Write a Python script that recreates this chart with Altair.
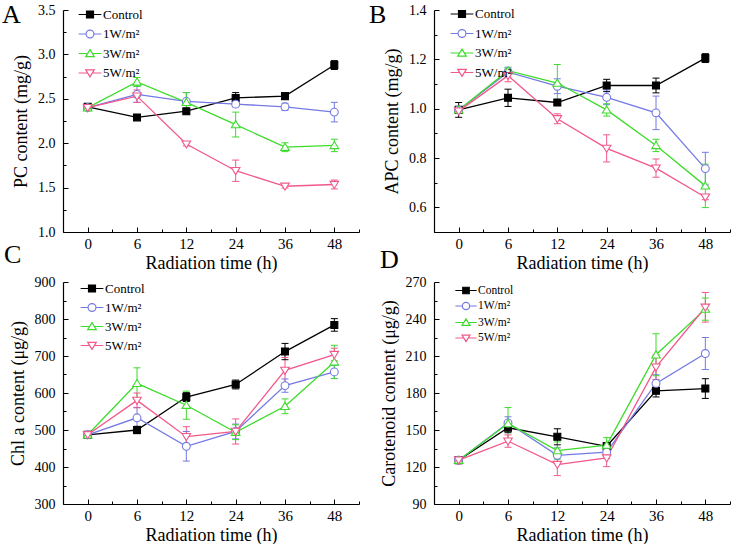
import altair as alt
import pandas as pd

# ---------------- data ----------------
times = ["0", "6", "12", "24", "36", "48"]
series = ["Control", "1W/m²", "3W/m²", "5W/m²"]
colors = ["#000000", "#7479e4", "#3ddc2c", "#f2588a"]
fills = ["#000000", "#ffffff", "#ffffff", "#ffffff"]
# marker outlines (square, circle, triangle-up, triangle-down) in unit coords
shapes = [
    "M-0.55,-0.55H0.55V0.55H-0.55Z",
    "M0.62,0A0.62,0.62,0,1,1,-0.62,0A0.62,0.62,0,1,1,0.62,0Z",
    "M0,-0.62L0.68,0.5H-0.68Z",
    "M0,0.62L0.68,-0.5H-0.68Z",
]
# legend symbols: short line through the marker
leg_shapes = [
    "M-1.8,0H-0.55M0.55,0H1.8M-0.55,-0.55H0.55V0.55H-0.55Z",
    "M-1.8,0H-0.62M0.62,0H1.8M0.62,0A0.62,0.62,0,1,1,-0.62,0A0.62,0.62,0,1,1,0.62,0Z",
    "M-1.8,0H-0.35M0.35,0H1.8M0,-0.62L0.68,0.5H-0.68Z",
    "M-1.8,0H-0.35M0.35,0H1.8M0,0.62L0.68,-0.5H-0.68Z",
]

# A: PC content (mg/g)
pc_ctrl = [2.41, 2.29, 2.36, 2.51, 2.53, 2.88]
pc_ctrl_err = [0.02, 0.02, 0.03, 0.06, 0.02, 0.05]
pc_w1 = [2.40, 2.55, 2.47, 2.44, 2.41, 2.35]
pc_w1_err = [0.02, 0.09, 0.10, 0.03, 0.04, 0.11]
pc_w3 = [2.40, 2.69, 2.46, 2.21, 1.955, 1.975]
pc_w3_err = [0.02, 0.05, 0.11, 0.14, 0.05, 0.07]
pc_w5 = [2.40, 2.53, 1.99, 1.69, 1.515, 1.535]
pc_w5_err = [0.02, 0.07, 0.02, 0.12, 0.02, 0.05]

# B: APC content (mg/g)
apc_ctrl = [0.995, 1.044, 1.025, 1.094, 1.094, 1.205]
apc_ctrl_err = [0.03, 0.035, 0.01, 0.025, 0.03, 0.018]
apc_w1 = [0.995, 1.148, 1.091, 1.046, 0.983, 0.757]
apc_w1_err = [0.01, 0.02, 0.03, 0.03, 0.068, 0.066]
apc_w3 = [0.995, 1.154, 1.104, 0.995, 0.851, 0.687]
apc_w3_err = [0.01, 0.01, 0.075, 0.025, 0.025, 0.088]
apc_w5 = [0.99, 1.134, 0.959, 0.839, 0.759, 0.641]
apc_w5_err = [0.01, 0.025, 0.02, 0.055, 0.037, 0.01]

# C: Chl a content (ug/g)
chl_ctrl = [487, 500, 589, 623, 712, 784]
chl_ctrl_err = [5, 10, 12, 12, 22, 17]
chl_w1 = [487, 533, 456, 496, 620, 657]
chl_w1_err = [5, 28, 40, 20, 18, 18]
chl_w3 = [487, 626, 567, 494, 564, 684]
chl_w3_err = [5, 42, 38, 20, 20, 45]
chl_w5 = [487, 580, 482, 496, 661, 704]
chl_w5_err = [5, 20, 27, 34, 35, 17]

# D: Carotenoid content (ug/g)
car_ctrl = [125.5, 151.8, 144.5, 136.8, 181.8, 183.6]
car_ctrl_err = [1.5, 4, 6.5, 3, 5, 8]
car_w1 = [125.5, 155.7, 129.5, 132.0, 187.8, 212.0]
car_w1_err = [1.5, 5, 6, 5, 7, 13]
car_w3 = [125.5, 155.2, 133.3, 137.8, 211.0, 248.0]
car_w3_err = [1.5, 13, 7, 6, 17, 9]
car_w5 = [125.5, 141.0, 122.0, 127.3, 201.0, 249.5]
car_w5_err = [1.5, 5, 9, 7, 10, 12]

FONT = "Liberation Serif"
W, H = 296, 222
MSIZE = 160


def panel(vals, errs, ytitle, ydom, ymajor, yminor, yfmt, letter, lpos, leg):
    rows = []
    for s, v, e in zip(series, vals, errs):
        for i in range(len(times)):
            rows.append({"idx": i, "series": s, "value": v[i],
                         "lo": v[i] - e[i], "hi": v[i] + e[i]})
    df = pd.DataFrame(rows)
    base = alt.Chart(df)
    xs = alt.Scale(domain=[-0.5, 5.5], nice=False, zero=False)
    ys = alt.Scale(domain=ydom, nice=False, zero=False)
    lab = "[" + ",".join("'" + t + "'" for t in times) + "][datum.value]"

    x_main = alt.X("idx:Q", scale=xs, axis=alt.Axis(
        orient="bottom", values=list(range(6)), labelExpr=lab, ticks=False,
        grid=False, title="Radiation time (h)", labelPadding=4, titlePadding=3,
        labelFontSize=15, titleFontSize=18, labelFlush=False,
        labelFont=FONT, titleFont=FONT, titleFontWeight="normal"))
    y_main = alt.Y("value:Q", scale=ys, axis=alt.Axis(
        orient="left", values=ymajor, format=yfmt, ticks=False, grid=False,
        title=ytitle, labelPadding=8, titlePadding=7, labelFontSize=14,
        titleFontSize=18, labelFlush=False,
        labelFont=FONT, titleFont=FONT, titleFontWeight="normal"))
    x_maj = alt.X("idx:Q", scale=xs, axis=alt.Axis(
        orient="top", offset=-H, values=list(range(6)), labels=False,
        domain=False, tickSize=5, grid=False, title=None))
    y_maj = alt.Y("value:Q", scale=ys, axis=alt.Axis(
        orient="right", offset=-W, values=ymajor, labels=False, domain=False,
        tickSize=5, grid=False, title=None))
    x_min = alt.X("idx:Q", scale=xs, axis=alt.Axis(
        orient="top", offset=-H, values=[i + 0.5 for i in range(-1, 6)],
        labels=False, domain=False, tickSize=3, grid=False, title=None))
    y_min = alt.Y("lo:Q", scale=ys, axis=alt.Axis(
        orient="right", offset=-W, values=yminor, labels=False, domain=False,
        tickSize=3, grid=False, title=None))
    x_none = alt.X("idx:Q", scale=xs, axis=None)

    L = alt.Legend(orient="none", legendX=leg["x"], legendY=leg["y"], title=None,
                   labelFont=FONT, labelFontSize=leg["fs"], labelColor="black",
                   symbolSize=leg["size"], symbolStrokeWidth=1.2,
                   symbolFillColor="white", symbolStrokeColor="black",
                   symbolOpacity=1, rowPadding=leg["rp"],
                   labelOffset=leg["lo"], padding=0)
    col = alt.Color("series:N", scale=alt.Scale(domain=series, range=colors),
                    legend=L)

    rules = base.mark_rule(strokeWidth=1).encode(
        x=x_min, y=y_min, y2="hi:Q", color=col)
    caps = base.transform_fold(["lo", "hi"], as_=["k", "v"]).mark_rule(
        strokeWidth=1, xOffset=-3.5, x2Offset=3.5).encode(
        x=x_none, x2="idx:Q",
        y=alt.Y("v:Q", scale=ys, axis=None), color=col)
    lines = base.mark_line(strokeWidth=1.3).encode(
        x=x_main, y=y_main, order="idx:Q", color=col)
    layers = [rules, caps, lines]
    for k, s in enumerate(series):
        layers.append(
            base.transform_filter(alt.datum.series == s).mark_point(
                shape=shapes[k], size=MSIZE, fill=fills[k], stroke=colors[k],
                strokeWidth=1.1, opacity=1, fillOpacity=1).encode(
                x=x_maj if k == 0 else x_none,
                y=y_maj if k == 0 else alt.Y("value:Q", scale=ys, axis=None)))
    dummy = base.transform_filter("false").mark_point(size=MSIZE).encode(
        color=col,
        fill=alt.Fill("series:N", scale=alt.Scale(domain=series, range=fills),
                      legend=L),
        shape=alt.Shape("series:N",
                        scale=alt.Scale(domain=series, range=leg_shapes),
                        legend=L))
    layers.append(dummy)
    letter_layer = alt.Chart(pd.DataFrame({"t": [letter]})).mark_text(
        font=FONT, fontSize=26, align="left", baseline="alphabetic",
        color="black").encode(text="t:N", x=alt.value(lpos[0]),
                              y=alt.value(lpos[1]))
    layers.append(letter_layer)
    return alt.layer(*layers).resolve_axis(
        x="independent", y="independent").properties(width=W, height=H)


pA = panel([pc_ctrl, pc_w1, pc_w3, pc_w5],
           [pc_ctrl_err, pc_w1_err, pc_w3_err, pc_w5_err],
           "PC content (mg/g)", [1.0, 3.5],
           [1.0, 1.5, 2.0, 2.5, 3.0, 3.5], [1.25, 1.75, 2.25, 2.75, 3.25],
           ".1f", "A", (-61, 13),
           {"x": 20, "y": -2.5, "fs": 13, "rp": 5.5, "lo": 6, "size": MSIZE})
pB = panel([apc_ctrl, apc_w1, apc_w3, apc_w5],
           [apc_ctrl_err, apc_w1_err, apc_w3_err, apc_w5_err],
           "APC content (mg/g)", [0.5, 1.4],
           [0.6, 0.8, 1.0, 1.2, 1.4], [0.5, 0.7, 0.9, 1.1, 1.3],
           ".1f", "B", (-65, 13),
           {"x": 21, "y": -3, "fs": 13, "rp": 5.5, "lo": 6, "size": MSIZE})
pC = panel([chl_ctrl, chl_w1, chl_w3, chl_w5],
           [chl_ctrl_err, chl_w1_err, chl_w3_err, chl_w5_err],
           "Chl a content (μg/g)", [300, 900],
           [300, 400, 500, 600, 700, 800, 900], [350, 450, 550, 650, 750, 850],
           "d", "C", (-59, -19),
           {"x": 22, "y": -0.5, "fs": 13, "rp": 5, "lo": 6, "size": MSIZE})
pD = panel([car_ctrl, car_w1, car_w3, car_w5],
           [car_ctrl_err, car_w1_err, car_w3_err, car_w5_err],
           "Carotenoid content (μg/g)", [90, 270],
           [90, 120, 150, 180, 210, 240, 270], [105, 135, 165, 195, 225, 255],
           "d", "D", (-54, -14),
           {"x": 25, "y": 1.5, "fs": 11.5, "rp": 2.5, "lo": 5, "size": 140})

chart = alt.concat(pA, pB, pC, pD, columns=2, spacing={"row": 50, "column": 75},
                   bounds="flush").resolve_scale(
    color="independent", fill="independent", shape="independent"
).resolve_legend(
    color="independent", fill="independent", shape="independent"
).properties(
    padding={"left": 2, "top": 2, "right": 0, "bottom": 0}
).configure_view(stroke=None).configure_axis(
    labelFont=FONT, titleFont=FONT, titleFontWeight="normal",
    labelColor="black", titleColor="black", domainColor="black",
    tickColor="black", domainWidth=1.2, tickWidth=1)

chart.save("out.html", embed_options={"renderer": "svg", "actions": False})
